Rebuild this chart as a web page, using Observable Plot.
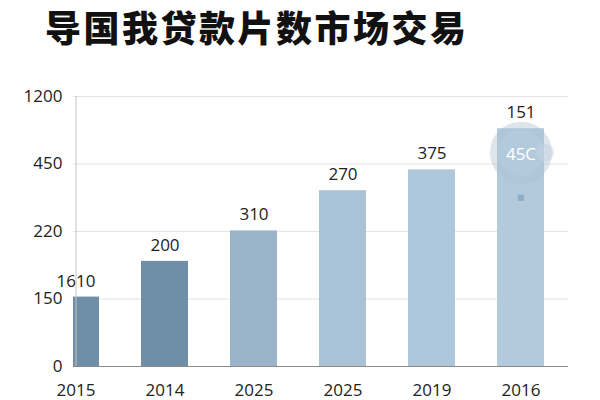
<!DOCTYPE html>
<html>
<head>
<meta charset="utf-8">
<script src="https://cdn.jsdelivr.net/npm/d3@7"></script>
<script src="https://cdn.jsdelivr.net/npm/@observablehq/plot@0.6"></script>
<style>
  html, body { margin: 0; padding: 0; background: #ffffff; }
  #title {
    height: 72px; line-height: 52px; box-sizing: border-box;
    padding-left: 45px; font-family: "Noto Sans CJK SC", sans-serif;
    font-weight: 900; font-size: 36px; letter-spacing: 2.5px; color: #111;
    white-space: nowrap;
  }
  #chart svg { display: block; }
</style>
</head>
<body>
<div id="title">导国我贷款片数市场交易</div>
<div id="chart"></div>
<script>
const years = ["2015", "2014", "2025", "2025", "2019", "2016"];
const barValues = [152, 189, 222, 359, 430, 842];
const barLabels = ["1610", "200", "310", "270", "375", "151"];
const yTicks = [0, 150, 220, 450, 1200];
const barColors = ["#6f8ea8", "#6f8ea8", "#9cb4ca", "#aac2d6", "#afc7da", "#b3cadd"];
const badgeText = ["45C"];
const badgeIndex = [5];
const badgeValue = [575];
const markerValue = [335];

const idx = years.map((_, i) => i);
const bars = idx.map(i => ({i, value: barValues[i], label: barLabels[i]}));
const badge = badgeIndex.map((i, k) => ({i, value: badgeValue[k], text: badgeText[k], marker: markerValue[k]}));

const chart = Plot.plot({
  width: 600,
  height: 328,
  marginTop: 24,
  marginBottom: 34,
  marginLeft: 73,
  marginRight: 32,
  style: {fontFamily: "'Open Sans', sans-serif", fontSize: "17px", color: "#222", background: "#ffffff"},
  x: {
    type: "band", domain: idx, range: [28, 567],
    paddingInner: 0.477, paddingOuter: 0.2385,
    tickFormat: i => years[i], tickSize: 0, tickPadding: 17, label: null
  },
  y: {
    type: "linear", domain: yTicks, ticks: yTicks, tickFormat: d => String(d),
    tickSize: 0, tickPadding: 11, label: null
  },
  color: {type: "ordinal", domain: idx, range: barColors},
  marks: [
    Plot.gridY(yTicks, {stroke: "#e4e4e4", strokeOpacity: 1}),
    Plot.barY(bars, {x: "i", y: "value", fill: "i", clip: true}),
    Plot.dot(badge, {x: "i", y: "value", r: 27, stroke: "#a9bfd2", strokeWidth: 8, strokeOpacity: 0.4, fill: "none"}),
    Plot.dot(badge, {x: "i", y: "value", dx: 24, r: 9, fill: "#c2d3e1", fillOpacity: 0.5}),
    Plot.text(badge, {x: "i", y: "value", text: "text", fill: "#ffffff", fontSize: 17, dy: 2}),
    Plot.dot(badge, {x: "i", y: "marker", symbol: "square", r: 3.5, fill: "#8eaec7"}),
    Plot.text(bars, {x: "i", y: "value", text: "label", dy: -16, fill: "#222", fontSize: 17}),
    Plot.ruleY([0], {stroke: "#8a8a8a", strokeWidth: 1.2}),
    Plot.ruleX([0], {stroke: "#c4c4c4", strokeWidth: 1})
  ]
});
document.getElementById("chart").appendChild(chart);
</script>
</body>
</html>
